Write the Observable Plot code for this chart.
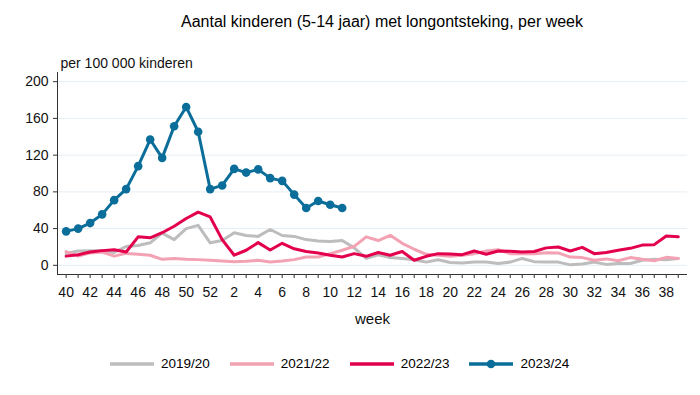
<!DOCTYPE html>
<html>
<head>
<meta charset="utf-8">
<script src="https://cdn.jsdelivr.net/npm/d3@7"></script>
<script src="https://cdn.jsdelivr.net/npm/@observablehq/plot@0.6"></script>
<style>
  body { margin: 0; background: #fff; }
  #wrap { position: relative; width: 700px; height: 395px; font-family: "Liberation Sans", Arial, sans-serif; color: #000; overflow: hidden; }
  #title { position: absolute; left: 82px; width: 600px; top: 13px; line-height: 18px; font-size: 16px; text-align: center; white-space: nowrap; }
  #chart { position: absolute; left: 0; top: 40px; }
  #legend { position: absolute; left: 110px; top: 354px; height: 20px; display: flex; align-items: center; font-size: 13.5px; line-height: 20px; }
  .item { display: flex; align-items: center; margin-right: 20px; }
  .item svg { margin-right: 7px; display: block; }
</style>
</head>
<body>
<div id="wrap">
  <div id="title">Aantal kinderen (5-14 jaar) met longontsteking, per week</div>
  <div id="chart"></div>
  <div id="legend"></div>
</div>
<script>
// ---- data ----
const weeks = [40,41,42,43,44,45,46,47,48,49,50,51,52,1,2,3,4,5,6,7,8,9,10,11,12,13,14,15,16,17,18,19,20,21,22,23,24,25,26,27,28,29,30,31,32,33,34,35,36,37,38,39];
const seriesNames = ["2019/20", "2021/22", "2022/23", "2023/24"];
const seriesColors = ["#bdbdbd", "#f2a2b3", "#e3014e", "#0b6e9a"];
const v2019 = [13,15.5,16,16,14,20.5,21.5,24.5,35,28,40,43.5,24.5,27,35.5,32.5,31.5,39,32.5,31.5,28,26.5,26,27,19,7.5,11.5,8.5,7.5,6,3.5,6,3,2.5,3.5,3.5,2,3.5,7.5,4,3.5,3.5,0.5,1.5,3.5,1,2,2,5.5,6.5,6,7.5];
const v2021 = [15,10,13.5,14.5,10,13,12,11,6.5,7.5,6.5,6.2,5.5,4.7,4,4.4,5.5,3.6,4.7,6.2,9,9,12.7,16.4,20.7,31,27,32.7,24,17.5,12,11,10,11,12.7,15.6,17,12.7,12.7,12.7,13.8,13.5,9,8.4,5.5,7,5,8.4,6.5,5,8.7,7.3];
const v2022 = [10,11.6,14.5,16,17,14.5,31,30,35.5,42.5,51,58,52.7,28,11,16.4,24.7,16.7,24,18,15,13.5,11,9,12.7,9.8,14,11,15,5.5,9.8,12.7,12.4,11.6,15.6,12,15.6,15.3,14.5,15,19,20,15.6,19.6,12.7,14,16.4,18.5,22,22.5,32,31];
const v2023 = [37,40,46,55.5,71,83,108,137,117,151.5,172.5,145.5,83,87,105,101,104.5,95,92,77,62.5,70,66,62.5];
const yTicks = [0,40,80,120,160,200];
const xLabelIdx = weeks.map((w, i) => i).filter(i => i % 2 === 0);
const yLabel = ["per 100 000 kinderen"];
const xLabel = ["week"];

const allValues = [v2019, v2021, v2022, v2023];
const rows = allValues.map((vals, s) => vals.map((v, i) => ({i, v, series: seriesNames[s]})));

const X0 = -0.72, X1 = 51.77, Y0 = -10, Y1 = 210;

const chart = Plot.plot({
  width: 700,
  height: 300,
  marginTop: 32,
  marginBottom: 66,
  marginLeft: 57,
  marginRight: 13,
  x: {type: "linear", domain: [X0, X1]},
  y: {domain: [Y0, Y1]},
  style: {fontFamily: "'Liberation Sans', Arial, sans-serif", fontSize: "14px", color: "#111", background: "transparent", overflow: "visible"},
  marks: [
    Plot.gridY(yTicks, {stroke: "#e6eef4", strokeOpacity: 1}),
    Plot.ruleX([X0], {stroke: "#333"}),
    Plot.ruleY([Y0], {stroke: "#333"}),
    Plot.axisY(yTicks, {tickSize: 4, tickPadding: 5, label: null, fontSize: 14, stroke: "#333"}),
    Plot.axisX(weeks.map((w, i) => i), {tickSize: 4, tickFormat: () => "", label: null, stroke: "#333"}),
    Plot.axisX(xLabelIdx, {tickSize: 0, tickPadding: 13, tickFormat: i => String(weeks[i]), label: null, fontSize: 14}),
    Plot.text(yLabel, {frameAnchor: "top-left", dx: 3, dy: -14, textAnchor: "start", fontSize: 14}),
    Plot.text(xLabel, {frameAnchor: "bottom", dy: 49, fontSize: 15}),
    ...rows.map((r, s) => Plot.line(r, {x: "i", y: "v", stroke: seriesColors[s], strokeWidth: 3, strokeLinejoin: "round"})),
    Plot.dot(rows[3], {x: "i", y: "v", r: 4.3, fill: seriesColors[3], stroke: "none"})
  ]
});
document.getElementById("chart").appendChild(chart);

// ---- legend ----
const legend = document.getElementById("legend");
seriesNames.forEach((name, s) => {
  const item = document.createElement("div");
  item.className = "item";
  const dot = s === 3 ? `<circle cx="22" cy="5" r="4.3" fill="${seriesColors[s]}"/>` : "";
  item.innerHTML = `<svg width="44" height="10"><line x1="0" x2="44" y1="5" y2="5" stroke="${seriesColors[s]}" stroke-width="3.5"/>${dot}</svg><span>${name}</span>`;
  legend.appendChild(item);
});
</script>
</body>
</html>
